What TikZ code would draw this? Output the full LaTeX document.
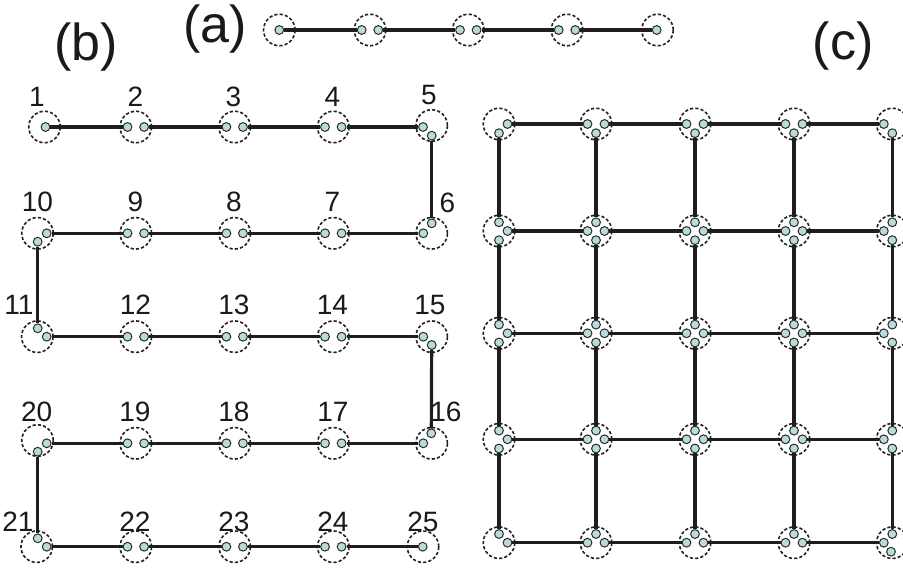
\documentclass[tikz,border=0pt]{standalone}
\usepackage{fontspec}
\setmainfont{Liberation Sans}
\definecolor{dotfill}{HTML}{B8DCDA}
\definecolor{dotline}{HTML}{2A2A2A}
\definecolor{linec}{HTML}{1E1E1E}
\definecolor{ringc}{HTML}{222222}
\definecolor{txt}{HTML}{1A1A1A}
\tikzset{
  ring/.style={circle, draw=ringc, dash pattern=on 3.2pt off 2.1pt, line width=1.6pt, minimum size=31.5pt, inner sep=0pt},
  dot/.style={circle, draw=dotline, fill=dotfill, line width=1pt, minimum size=8.8pt, inner sep=0pt},
  link/.style={draw=linec, line width=3.2pt},
  num/.style={font=\fontsize{28}{30}\selectfont, text=txt, inner sep=0pt},
  panel/.style={font=\fontsize{52}{60}\selectfont, text=txt, inner sep=0pt},
}
\begin{document}
\begin{tikzpicture}[x=1pt,y=-1pt]
\clip (0,0) rectangle (903,570);
\fill[white] (0,0) rectangle (903,570);

% ---------- panel labels
\node[panel] (la) at (215,29) {(a)};
\node[panel] (lb) at (86,47) {(b)};
\node[panel] (lc) at (843,46) {(c)};

% ---------- panel (a)
\node[ring] (a1) at (279.3,30) {};
\node[dot] (a1-d) at (279.3,30) {};
\foreach \n/\x in {a2/370, a3/468.3, a4/567} {
  \node[ring] (\n) at (\x,30) {};
  \node[dot] (\n-L) at (\x-8.3,30) {};
  \node[dot] (\n-R) at (\x+8.3,30) {};
}
\node[ring] (a5) at (657.5,30) {};
\node[dot] (a5-d) at (656.7,30) {};

% ---------- panel (b)
\node[ring] (b1) at (44.5,127) {};
\node[dot] (b1-d) at (45.5,127) {};
\node[ring] (b25) at (423,546.7) {};
\node[dot] (b25-d) at (422.7,546.7) {};
\foreach \n/\x/\y in {b2/135.8/127, b3/234.7/127, b4/333.3/127,
                      b9/135.8/233.3, b8/234.7/233.3, b7/333.3/233.3,
                      b12/135.8/336.7, b13/234.7/336.7, b14/333.3/336.7,
                      b19/135.8/443.3, b18/234.7/443.3, b17/333.3/443.3,
                      b22/135.8/546.7, b23/234.7/546.7, b24/333.3/546.7} {
  \node[ring] (\n) at (\x,\y) {};
  \node[dot] (\n-L) at (\x-8.3,\y) {};
  \node[dot] (\n-R) at (\x+8.3,\y) {};
}
% corner nodes
\node[ring] (b5) at (431.7,125.5) {};
\node[dot] (b5-L) at (423,127) {};
\node[dot] (b5-D) at (431.7,135.7) {};
\node[ring] (b6) at (431.7,233.3) {};
\node[dot] (b6-U) at (431.7,223.3) {};
\node[dot] (b6-L) at (423.3,233.3) {};
\node[ring] (b10) at (37.5,233.3) {};
\node[dot] (b10-R) at (46.7,233.3) {};
\node[dot] (b10-D) at (37.7,241.7) {};
\node[ring] (b11) at (37.3,336.7) {};
\node[dot] (b11-U) at (37.7,328.3) {};
\node[dot] (b11-R) at (46.7,336.7) {};
\node[ring] (b15) at (431.7,336.7) {};
\node[dot] (b15-L) at (423.3,336.7) {};
\node[dot] (b15-D) at (431.7,345) {};
\node[ring] (b16) at (431.7,443.3) {};
\node[dot] (b16-U) at (431.3,433.3) {};
\node[dot] (b16-L) at (423.3,443.3) {};
\node[ring] (b20) at (37.5,440.5) {};
\node[dot] (b20-R) at (46.7,443.3) {};
\node[dot] (b20-D) at (37.7,451.7) {};
\node[ring] (b21) at (36.7,546.7) {};
\node[dot] (b21-U) at (37.7,538.3) {};
\node[dot] (b21-R) at (46.7,546.7) {};

% number labels
\foreach \t/\x/\y in {1/37/96.5, 2/135.5/96.5, 3/233.5/96.5, 4/332.5/96.5, 5/429/95,
                      10/37.5/201.7, 9/135.5/201.7, 8/234/201.7, 7/332.5/201.7, 6/447.5/202.5,
                      11/19/305, 12/135.5/305, 13/234/305, 14/332.5/305, 15/430/305,
                      20/36.7/412, 19/135/412, 18/234/412, 17/333/412, 16/446/412,
                      21/18/521.7, 22/135/521.7, 23/234/521.7, 24/333/521.7, 25/423/521.7} {
  \node[num] (t\t) at (\x,\y) {\t};
}

% ---------- panel (c)
\foreach \i/\x in {1/499, 2/596, 3/695, 4/794, 5/892.3} {
  \foreach \j/\y in {1/124, 2/231, 3/333.3, 4/439.3, 5/542.7} {
    \node[ring] (c\i\j) at (\x,\y) {};
    \ifnum\i>1 \node[dot] (c\i\j-L) at (\x-8.5,\y) {}; \fi
    \ifnum\i<5 \node[dot] (c\i\j-R) at (\x+8.5,\y) {}; \fi
    \ifnum\j>1 \node[dot] (c\i\j-U) at (\x,\y-8.7) {}; \fi
    \ifnum\j<5 \node[dot] (c\i\j-D) at (\x,\y+9.2) {}; \fi
  }
}
\node[dot] (c55-D) at (891,551.7) {};

% ---------- connectors
\foreach \p/\q in {a1-d/a2-L, a2-R/a3-L, a3-R/a4-L, a4-R/a5-d,
                   b1-d/b2-L, b2-R/b3-L, b3-R/b4-L, b4-R/b5-L, b5-D/b6-U,
                   b6-L/b7-R, b7-L/b8-R, b8-L/b9-R, b9-L/b10-R, b10-D/b11-U,
                   b11-R/b12-L, b12-R/b13-L, b13-R/b14-L, b14-R/b15-L, b15-D/b16-U,
                   b16-L/b17-R, b17-L/b18-R, b18-L/b19-R, b19-L/b20-R, b20-D/b21-U,
                   b21-R/b22-L, b22-R/b23-L, b23-R/b24-L, b24-R/b25-d} {
  \draw[link] (\p) -- (\q);
}
\foreach \i/\k in {1/2, 2/3, 3/4, 4/5} {
  \foreach \j in {1,...,5} {
    \draw[link] (c\i\j-R) -- (c\k\j-L);
    \draw[link] (c\j\i-D) -- (c\j\k-U);
  }
}
\end{tikzpicture}
\end{document}
